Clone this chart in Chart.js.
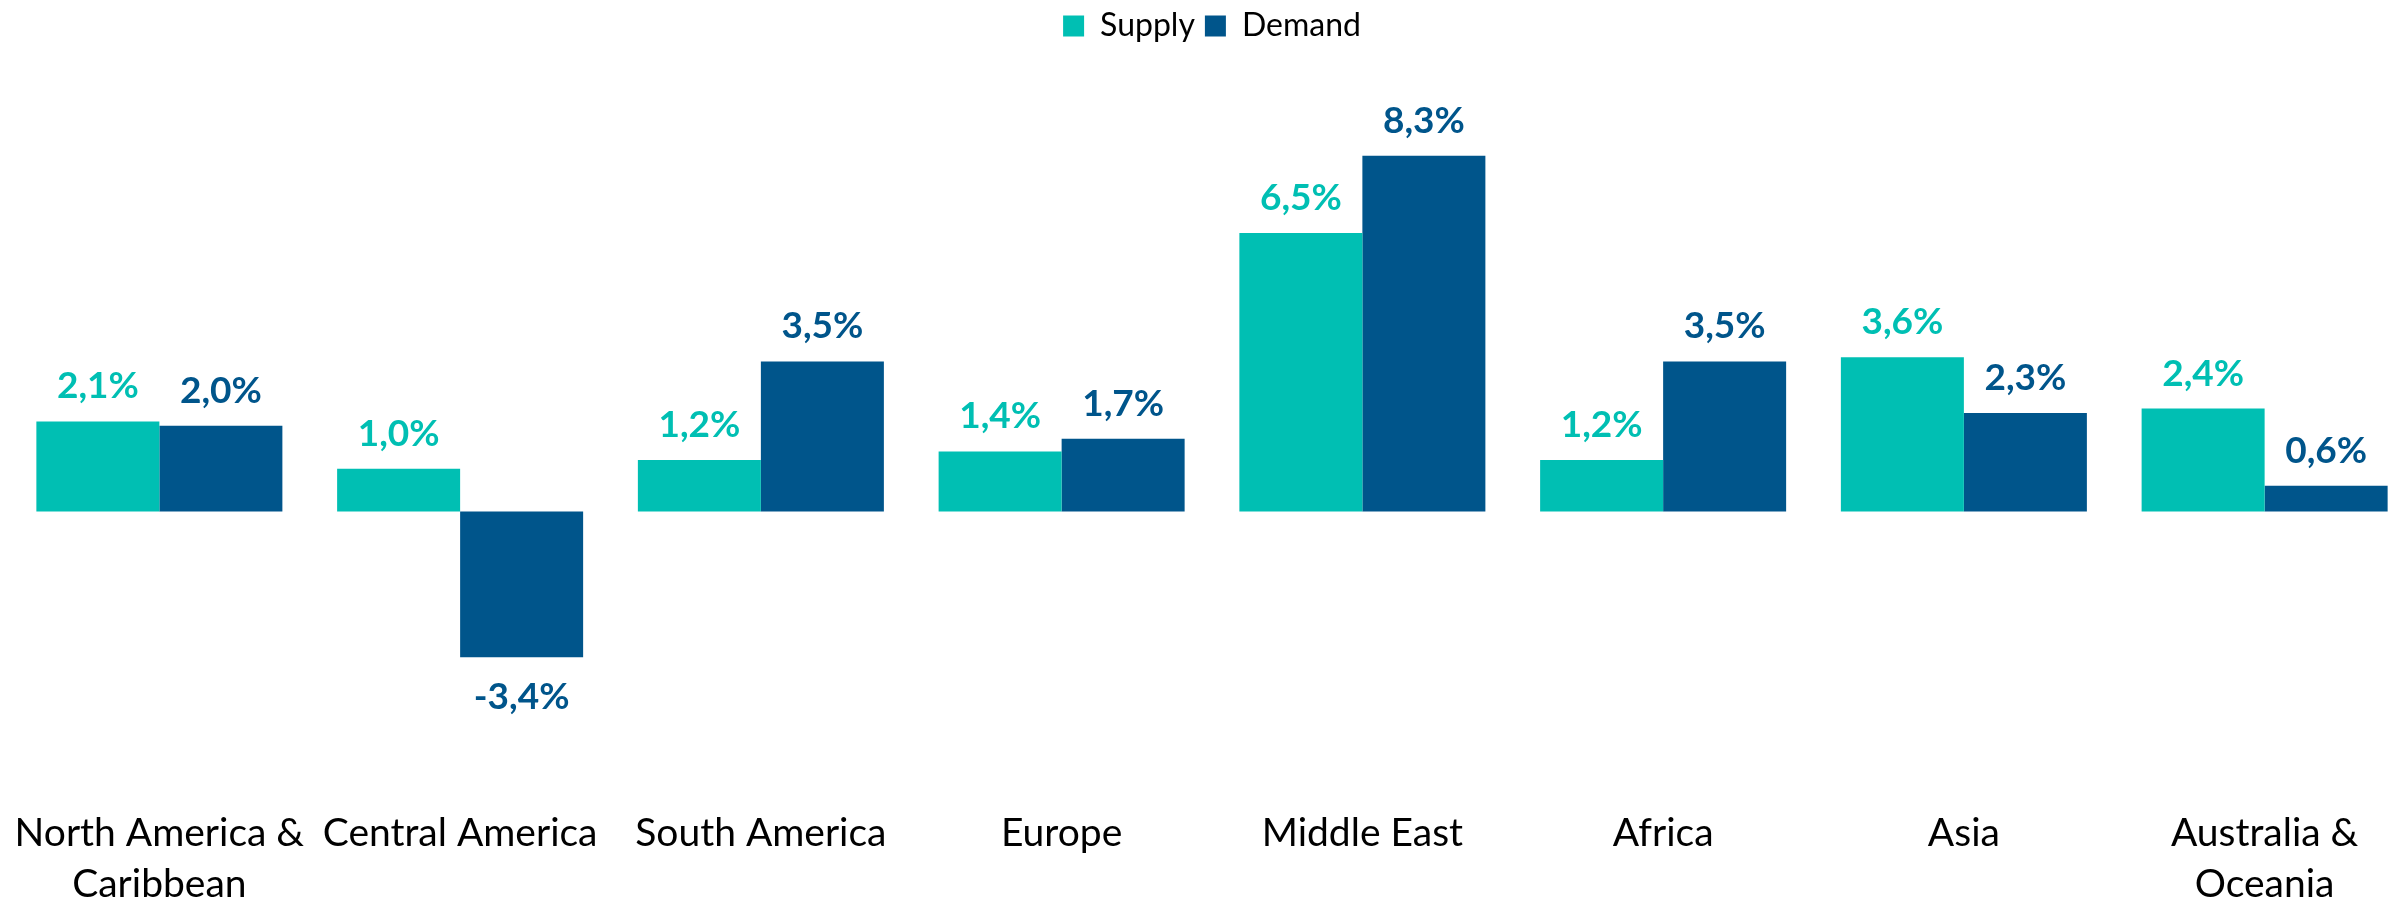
<!DOCTYPE html>
<html>
<head>
<meta charset="utf-8">
<script src="https://cdn.jsdelivr.net/npm/chart.js@4.4.0/dist/chart.umd.min.js"></script>
<style>
  html, body { margin: 0; padding: 0; background: #fff; overflow: hidden; }
  #wrap { position: absolute; left: 0; top: 0; width: 2416px; height: 927px; }
</style>
</head>
<body>
<div id="wrap"><canvas id="Chart"></canvas></div>
<script>
var regions = [
    ['North America &', 'Caribbean'],
    'Central America',
    'South America',
    'Europe',
    'Middle East',
    'Africa',
    'Asia',
    ['Australia &', 'Oceania']
]
var supply = [2.1, 1.0, 1.2, 1.4, 6.5, 1.2, 3.6, 2.4]
var demand = [2.0, -3.4, 3.5, 1.7, 8.3, 3.5, 2.3, 0.6]

var seriesNames = ['Supply', 'Demand']
var colors = ['#00BFB3', '#00558B']

function fmt(v) {
    return v.toFixed(1).replace('.', ',') + '%';
}

// writes the value above (or below, when negative) each bar
const valueLabels = {
    id: 'valueLabels',
    afterDatasetsDraw(chart) {
        const ctx = chart.ctx;
        ctx.save();
        ctx.font = 'bold 37px Lato';
        ctx.textAlign = 'center';
        ctx.textBaseline = 'alphabetic';
        chart.data.datasets.forEach(function(ds, i) {
            ctx.fillStyle = colors[i];
            chart.getDatasetMeta(i).data.forEach(function(bar, j) {
                var v = ds.data[j];
                var y = v >= 0 ? bar.y - 23 : bar.y + 52;
                ctx.fillText(fmt(v), bar.x, y);
            });
        });
        ctx.restore();
    }
};

const ctx = document.getElementById('Chart');
window.myChart = new Chart(ctx, {
    type: 'bar',
    data: {
        labels: regions,
        datasets: [{
            label: seriesNames[0],
            data: supply,
            backgroundColor: colors[0],
            categoryPercentage: 0.818,
            barPercentage: 1
        }, {
            label: seriesNames[1],
            data: demand,
            backgroundColor: colors[1],
            categoryPercentage: 0.818,
            barPercentage: 1
        }]
    },
    options: {
        responsive: true,
        maintainAspectRatio: false,
        animation: false,
        layout: {
            padding: { left: 9, right: 1, top: 0, bottom: 6 }
        },
        plugins: {
            tooltip: { enabled: false },
            legend: {
                position: 'top',
                labels: {
                    boxWidth: 21,
                    boxHeight: 21,
                    padding: 10,
                    color: '#000',
                    font: { family: 'Lato', size: 32 }
                }
            }
        },
        scales: {
            x: {
                grid: { display: false },
                border: { display: false },
                // labels may hang past the edges, like the original
                afterFit: function(scale) {
                    scale.paddingLeft = 0;
                    scale.paddingRight = 0;
                },
                ticks: {
                    color: '#000',
                    autoSkip: false,
                    maxRotation: 0,
                    padding: 11,
                    font: { family: 'Lato', size: 39, lineHeight: 1.31 }
                }
            },
            y: {
                display: false,
                min: -6.47,
                max: 10.72
            }
        }
    },
    plugins: [valueLabels]
});
</script>
</body>
</html>
